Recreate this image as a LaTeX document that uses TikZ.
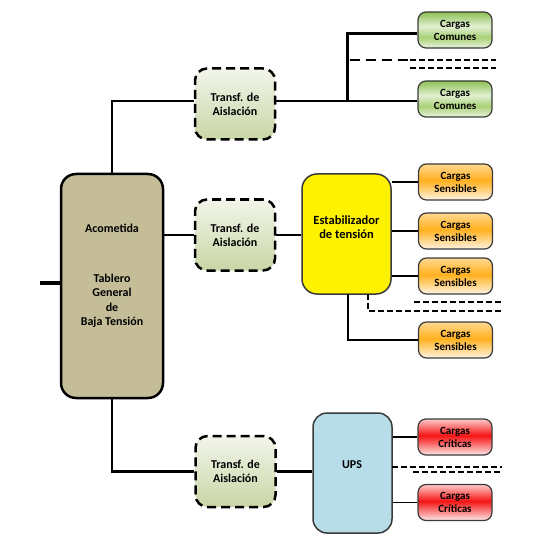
\documentclass[tikz,border=0pt]{standalone}
\usepackage{fontspec}
\setmainfont{Carlito}
\usetikzlibrary{calc}
\definecolor{tan}{HTML}{C4BD97}
\definecolor{upsblue}{HTML}{B7DDE8}
\definecolor{edge}{HTML}{3A3A3A}
\definecolor{gA}{HTML}{8CC152}
\definecolor{gB}{HTML}{E2EFD3}
\definecolor{gC}{HTML}{A9D176}
\definecolor{gD}{HTML}{E9F3DE}
\definecolor{oA}{HTML}{FFD890}
\definecolor{oB}{HTML}{FFB01E}
\definecolor{oC}{HTML}{FFF4E2}
\definecolor{rA}{HTML}{FFCACA}
\definecolor{rB}{HTML}{F51414}
\definecolor{rC}{HTML}{FFE8E8}
\definecolor{tTop}{HTML}{F2F5EA}
\definecolor{tBot}{HTML}{C9D6A6}
\pgfdeclareverticalshading{greenband}{100bp}{color(0bp)=(gD); color(25bp)=(gD); color(40bp)=(gC); color(55bp)=(gB); color(75bp)=(gA); color(100bp)=(gA)}
\pgfdeclareverticalshading{orangeband}{100bp}{color(0bp)=(oC); color(25bp)=(oC); color(52bp)=(oB); color(75bp)=(oA); color(100bp)=(oA)}
\pgfdeclareverticalshading{redband}{100bp}{color(0bp)=(rC); color(25bp)=(rC); color(52bp)=(rB); color(75bp)=(rA); color(100bp)=(rA)}
\tikzset{
  box/.style={draw=black, rounded corners=#1, inner sep=0pt, align=center, font=\bfseries},
  mainbox/.style={box=15pt, line width=2.5pt, fill=tan, minimum width=102pt, minimum height=224pt},
  transf/.style={box=12pt, line width=2.5pt, dash pattern=on 9pt off 5pt, top color=tTop, bottom color=tBot, minimum width=80pt, minimum height=71pt, font=\bfseries\fontsize{12}{14}\selectfont},
  estabbox/.style={box=15pt, draw=edge, line width=1.5pt, fill=yellow, minimum width=89pt, minimum height=120pt},
  upsbox/.style={box=14pt, draw=edge, line width=1.5pt, fill=upsblue, minimum width=79pt, minimum height=120pt},
  carga/.style={box=8pt, draw=edge, line width=1.2pt, minimum width=74pt, minimum height=36pt, shading=#1, font=\bfseries\fontsize{11}{13}\selectfont},
  lbl/.style={inner sep=0pt, align=center, font=\bfseries\fontsize{12}{14.4}\selectfont},
  bus/.style={line width=2.4pt},
  stub/.style={line width=4pt},
  feed/.style={line width=1.2pt},
  busdash/.style={line width=2.4pt, dash pattern=on 10pt off 6pt},
  thindash/.style={line width=1.1pt, dash pattern=on 5.5pt off 3.5pt},
}
\begin{document}
\begin{tikzpicture}[x=1pt,y=-1pt]
\useasboundingbox (0,0) rectangle (536,553);
% main board
\node[mainbox] (main) at (112,286) {};
\node[lbl] (acom) at (112,228) {Acometida};
\node[lbl] (tab) at (112,301) {Tablero\\General\\de\\Baja Tensión};
% transformers
\node[transf] (t1) at (235,104) {Transf. de\\Aislación};
\node[transf] (t2) at (235,235) {Transf. de\\Aislación};
\node[transf] (t3) at (235.5,471.5) {Transf. de\\Aislación};
% stabilizer and UPS
\node[estabbox] (estab) at (346.5,234) {};
\node[lbl, font=\bfseries\fontsize{12.5}{13.5}\selectfont] (estabtxt) at (346.5,227) {Estabilizador\\de tensión};
\node[upsbox] (ups) at (352.5,473) {};
\node[lbl] (upstxt) at (352,465) {UPS};
% loads
\node[carga=greenband] (cc1) at (455,30) {Cargas\\Comunes};
\node[carga=greenband] (cc2) at (455,99) {Cargas\\Comunes};
\node[carga=orangeband] (cs1) at (455.5,182) {Cargas\\Sensibles};
\node[carga=orangeband] (cs2) at (455.5,231) {Cargas\\Sensibles};
\node[carga=orangeband] (cs3) at (455.5,276) {Cargas\\Sensibles};
\node[carga=orangeband] (cs4) at (455.5,340) {Cargas\\Sensibles};
\node[carga=redband] (cr1) at (455,437) {Cargas\\Críticas};
\node[carga=redband] (cr2) at (455,502.5) {Cargas\\Críticas};
% coordinates
\coordinate (in) at (40,283);
\coordinate (j1) at (347.5,101);
\coordinate (j1t) at (347.5,33.5);
\coordinate (d1a) at (350,60);
\coordinate (d1b) at (410,60);
\coordinate (d1c) at (496,60);
\coordinate (d1d) at (410,68);
\coordinate (d1e) at (496,68);
\coordinate (e4) at (348,294);
\coordinate (e5) at (368,294);
\coordinate (e5end) at (501,311);
\coordinate (e6a) at (414,302);
\coordinate (e6b) at (501,302);
\coordinate (u1a) at (392,467);
\coordinate (u1b) at (502,467);
\coordinate (u2a) at (413,472);
\coordinate (u2b) at (502,472);
% connectors
\draw[stub] (in) -- (main.west |- in);
\draw[bus] (main.north) |- (t1.west |- j1);
\draw[bus] (t1.east |- j1) -- (cc2.west |- j1);
\draw[bus] (j1) -- (j1t) -- (cc1.west |- j1t);
\draw[busdash] (d1a) -- (d1b);
\draw[thindash] (d1b) -- (d1c);
\draw[thindash] (d1d) -- (d1e);
\draw[bus] (main.east |- t2.west) -- (t2.west);
\draw[bus] (t2.east) -- (estab.west |- t2.east);
\draw[feed] (estab.east |- cs1.west) -- (cs1.west);
\draw[feed] (estab.east |- cs2.west) -- (cs2.west);
\draw[feed] (estab.east |- cs3.west) -- (cs3.west);
\draw[feed] (e4) |- (cs4.west);
\draw[thindash] (e5) |- (e5end);
\draw[thindash] (e6a) -- (e6b);
\draw[bus] (main.south) |- (t3.west);
\draw[bus] (t3.east) -- (ups.west |- t3.east);
\draw[feed] (ups.east |- cr1.west) -- (cr1.west);
\draw[feed] (ups.east |- cr2.west) -- (cr2.west);
\draw[thindash] (u1a) -- (u1b);
\draw[thindash] (u2a) -- (u2b);
\end{tikzpicture}
\end{document}
